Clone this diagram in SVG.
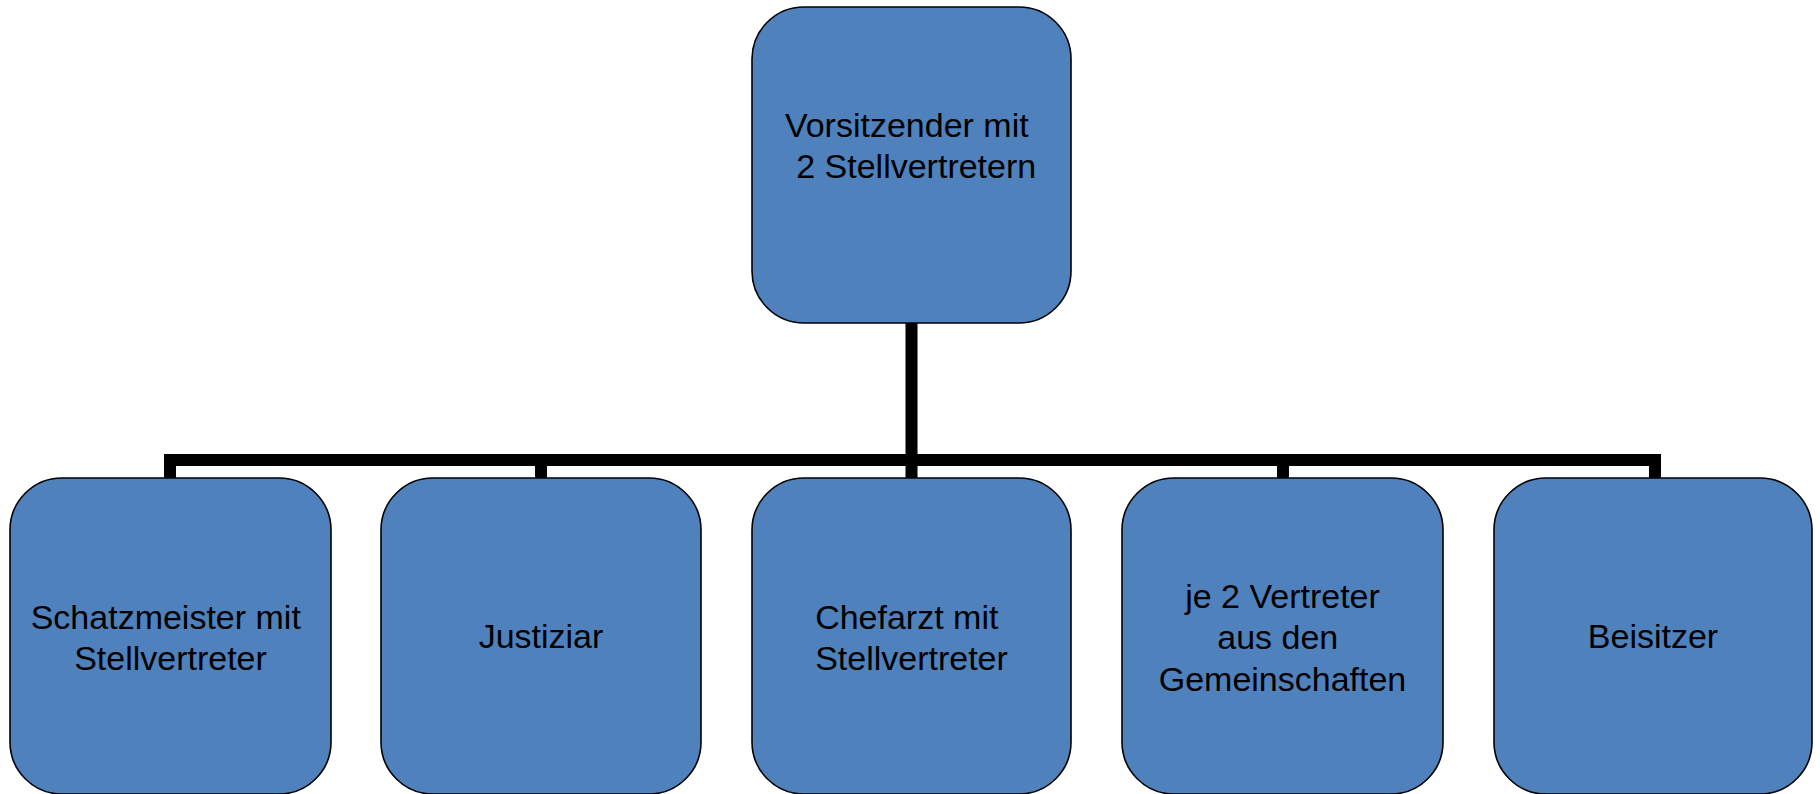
<svg xmlns="http://www.w3.org/2000/svg" width="1820" height="794" viewBox="0 0 1820 794">
<style>
.box{fill:#4F81BD;stroke:#000;stroke-width:1.6}
.lbl{font-family:"Liberation Sans",Arial,sans-serif;font-size:34px;fill:#000;text-anchor:middle;white-space:pre}
.conn{fill:none;stroke:#000;stroke-width:12;stroke-linejoin:miter;stroke-linecap:butt}
</style>
<rect width="1820" height="794" fill="#fff"/>
<g id="connectors">
<path class="conn" d="M170 478 V460 H1655 V478"/>
<path class="conn" d="M541 460 V478"/>
<path class="conn" d="M1283 460 V478"/>
<path class="conn" d="M911.5 323 V478"/>
</g>
<g id="node-vorsitzender">
<rect class="box" x="752" y="7" width="319" height="316" rx="52" ry="52"/>
<text class="lbl" xml:space="preserve" x="911.5" y="137">Vorsitzender mit </text>
<text class="lbl" xml:space="preserve" x="911.5" y="178"> 2 Stellvertretern</text>
</g>
<g id="node-schatzmeister">
<rect class="box" x="10" y="478" width="321" height="316" rx="52" ry="52"/>
<text class="lbl" xml:space="preserve" x="170.5" y="629">Schatzmeister mit </text>
<text class="lbl" x="170.5" y="670">Stellvertreter</text>
</g>
<g id="node-justiziar">
<rect class="box" x="381" y="478" width="320" height="316" rx="52" ry="52"/>
<text class="lbl" x="541" y="648">Justiziar</text>
</g>
<g id="node-chefarzt">
<rect class="box" x="752" y="478" width="319" height="316" rx="52" ry="52"/>
<text class="lbl" xml:space="preserve" x="911.5" y="629">Chefarzt mit </text>
<text class="lbl" x="911.5" y="670">Stellvertreter</text>
</g>
<g id="node-vertreter">
<rect class="box" x="1122" y="478" width="321" height="316" rx="52" ry="52"/>
<text class="lbl" x="1282.5" y="608">je 2 Vertreter</text>
<text class="lbl" xml:space="preserve" x="1282.5" y="649">aus den </text>
<text class="lbl" x="1282.5" y="691">Gemeinschaften</text>
</g>
<g id="node-beisitzer">
<rect class="box" x="1494" y="478" width="318" height="316" rx="52" ry="52"/>
<text class="lbl" x="1653" y="648">Beisitzer</text>
</g>
</svg>
